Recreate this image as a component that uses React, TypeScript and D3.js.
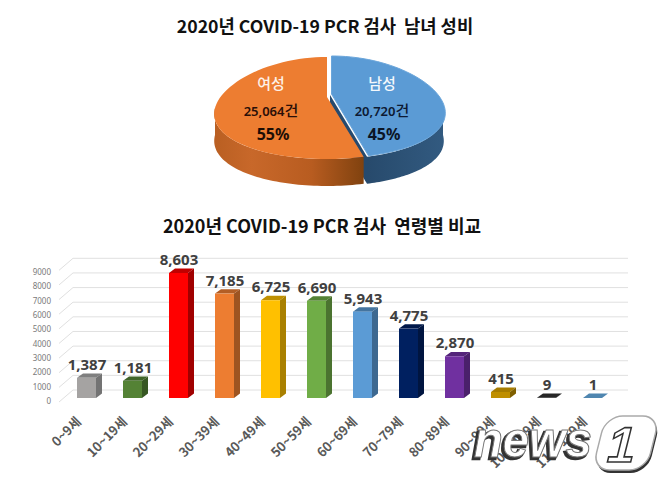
import * as d3 from 'd3';

const FONT = '"Noto Sans CJK KR", sans-serif';
const LATIN = '"Noto Sans", "Noto Sans CJK KR", sans-serif';

const genderNames = ['남성', '여성'];
const genderCounts = [20720, 25064];
const genderCountLabels = ['20,720', '25,064'];
const genderPercents = ['45%', '55%'];

const ages = ['0~9세', '10~19세', '20~29세', '30~39세', '40~49세', '50~59세', '60~69세', '70~79세', '80~89세', '90~99세', '100~109세', '110~119세'];
const ageCounts = [1387, 1181, 8603, 7185, 6725, 6690, 5943, 4775, 2870, 415, 9, 1];
const yTicks = [0, 1000, 2000, 3000, 4000, 5000, 6000, 7000, 8000, 9000];

const barFront = ['#a5a3a2', '#548235', '#ff0000', '#ed7d31', '#ffc000', '#70ad47', '#5b9bd5', '#002060', '#7030a0', '#bf8f00', '#262626', '#4f86b0'];
const barTop = ['#7f7f7f', '#3f6428', '#c00000', '#b35e25', '#c09000', '#548235', '#44749f', '#00184a', '#54247a', '#a67c00', '#262626', '#4f86b0'];
const barSide = ['#737373', '#375723', '#a00000', '#9e5421', '#a98000', '#4b7330', '#3d6890', '#001540', '#4a206b', '#7f5f00', '#262626', '#41719c'];

const depthX = 6;
const depthY = 4.4;

// bars use the front plane, grid sits on the back wall, tick labels have their own spacing
const x = d3.scaleBand<string>().domain(ages).range([63.5, 615.5]).paddingInner(0.587).paddingOuter(0.2935);
const y = d3.scaleLinear().domain([0, 9000]).range([398, 267.2]);
const yBack = d3.scaleLinear().domain([0, 9000]).range([390, 258.3]);
const yLabel = d3.scaleLinear().domain([0, 9000]).range([401, 272]);

const pieAngles = d3.pie<number>().sort(null)(genderCounts);
const pieCy = 108;
const pieRy = 51;
const pieDepth = 27;

function rim(a: number, cx: number, rx: number): [number, number] {
  const widen = 1 - 0.12 * Math.cos(a);
  return [cx + rx * Math.sin(a) * widen, pieCy - pieRy * Math.cos(a)];
}

function arcPoints(a0: number, a1: number, cx: number, rx: number): [number, number][] {
  const n = 60;
  return d3.range(n + 1).map(i => rim(a0 + ((a1 - a0) * i) / n, cx, rx));
}

const line = d3.line();

function topPath(a0: number, a1: number, cx: number, rx: number, apexY: number) {
  return line([[cx, apexY], ...arcPoints(a0, a1, cx, rx)]) + 'Z';
}

function sidePath(a0: number, a1: number, cx: number, rx: number) {
  const pts = arcPoints(a0, a1, cx, rx);
  const low = pts.map(([px, py]) => [px, py + pieDepth] as [number, number]).reverse();
  return line([...pts, ...low]) + 'Z';
}

function Pie() {
  const male = pieAngles[0];
  const female = pieAngles[1];
  const mEnd = rim(male.endAngle, 330, 113);
  const mApex: [number, number] = [330, 95];
  const fStart = female.startAngle;
  return (
    <g>
      <defs>
        <linearGradient id="orangeSide" x1="0" x2="1" y1="0" y2="0">
          <stop offset="0" stopColor="#b95f22" />
          <stop offset="0.25" stopColor="#c8682a" />
          <stop offset="0.65" stopColor="#b85c20" />
          <stop offset="1" stopColor="#80420f" />
        </linearGradient>
        <linearGradient id="blueSide" x1="0" x2="1" y1="0" y2="0">
          <stop offset="0" stopColor="#274a6c" />
          <stop offset="1" stopColor="#325a80" />
        </linearGradient>
      </defs>
      <path d={sidePath(Math.PI / 2, male.endAngle, 330, 113)} fill="url(#blueSide)" />
      <path
        d={line([mApex, mEnd, [mEnd[0], mEnd[1] + pieDepth], [mApex[0], mApex[1] + pieDepth]])! + 'Z'}
        fill="#264a6e"
      />
      <path d={topPath(male.startAngle, male.endAngle, 330, 113, 95)} fill="#5b9bd5" stroke="#6ba6db" strokeWidth={1} transform="translate(1.5,-1)" />
      <path d={sidePath(fStart, Math.PI * 1.5, 327, 112)} fill="url(#orangeSide)" />
      <path d={topPath(fStart, female.endAngle, 327, 112, 97)} fill="#ed7d31" />

      <g textAnchor="middle" fontFamily={FONT}>
        <text x={382} y={89} fontSize={15} fontWeight={500} fill="#f4f8fc">{genderNames[0]}</text>
        <text x={271} y={89} fontSize={15} fontWeight={500} fill="#fdf1e8">{genderNames[1]}</text>
        <text x={382} y={116} fontSize={13} fontWeight={500} fill="#0d1a33">
          <tspan fontFamily={LATIN} fontWeight={600}>{genderCountLabels[0]}</tspan>
          <tspan fontSize={15}>건</tspan>
        </text>
        <text x={271} y={116} fontSize={13} fontWeight={500} fill="#2a0f08">
          <tspan fontFamily={LATIN} fontWeight={600}>{genderCountLabels[1]}</tspan>
          <tspan fontSize={15}>건</tspan>
        </text>
        <text x={384} y={140} fontSize={16} fontWeight={700} fontFamily={LATIN} fill="#0b1526">{genderPercents[0]}</text>
        <text x={273} y={140} fontSize={16} fontWeight={700} fontFamily={LATIN} fill="#1c0d05">{genderPercents[1]}</text>
      </g>
    </g>
  );
}

function Bars() {
  const bw = x.bandwidth();
  return (
    <g>
      {ages.map((age, i) => {
        const left = x(age)!;
        const top = y(ageCounts[i]);
        const base = y(0);
        const right = left + bw;
        return (
          <g key={age}>
            <path
              d={line([[left, top], [left + depthX, top - depthY], [right + depthX, top - depthY], [right, top]])! + 'Z'}
              fill={barTop[i]}
            />
            <path
              d={line([[right, top], [right + depthX, top - depthY], [right + depthX, base - depthY], [right, base]])! + 'Z'}
              fill={barSide[i]}
            />
            <rect x={left} y={top} width={bw} height={base - top} fill={barFront[i]} />
            <text
              x={left + bw / 2 + 0.5}
              y={top - 8}
              textAnchor="middle"
              fontFamily={LATIN}
              fontWeight={700}
              fontSize={15}
              fill="#404040"
            >
              {d3.format(',')(ageCounts[i])}
            </text>
          </g>
        );
      })}
    </g>
  );
}

function Grid() {
  return (
    <g stroke="#e0e0e0" strokeWidth={1} fill="none">
      {yTicks.map(t => (
        <path key={t} d={line([[59, yBack(t) + 12], [73, yBack(t)], [628, yBack(t)]])!} />
      ))}
    </g>
  );
}

function Watermark() {
  const wm = {
    y: 457,
    fontFamily: '"Liberation Sans", sans-serif',
    fontWeight: 700,
    fontStyle: 'italic',
    fontSize: 50,
    textLength: 118,
    lengthAdjust: 'spacingAndGlyphs',
  } as const;
  return (
    <g>
      <text {...wm} x={472} dy={2} fill="#333" stroke="#333" strokeWidth={2.5}>news</text>
      <text {...wm} x={474} fill="#fff" stroke="#777" strokeWidth={1}>news</text>
      <g transform="translate(625,443) skewX(-14)">
        <rect x={-24} y={-24} width={54} height={54} rx={17} fill="#333" />
        <rect x={-26} y={-27} width={54} height={54} rx={17} fill="#fff" stroke="#aaa" strokeWidth={1.5} />
        <text x={-2} y={19} textAnchor="middle" fontFamily='"Liberation Sans", sans-serif' fontWeight={700} fontSize={50} fill="#fff" stroke="#333" strokeWidth={1.6}>
          1
        </text>
      </g>
    </g>
  );
}

export default function App() {
  return (
    <svg width={666} height={482} style={{ position: 'absolute', left: 0, top: 0, background: '#fff' }}>
      <text x={325} y={33} textAnchor="middle" fontFamily={FONT} fontWeight={700} fontSize={17.7} fill="#111" xmlSpace="preserve">
        2020년 COVID-19 PCR 검사  남녀 성비
      </text>
      <Pie />

      <text x={322} y={233} textAnchor="middle" fontFamily={FONT} fontWeight={700} fontSize={18} fill="#111" xmlSpace="preserve">
        2020년 COVID-19 PCR 검사  연령별 비교
      </text>
      <Grid />
      <g
        ref={el => {
          if (!el) return;
          const axis = d3.axisLeft(yLabel).tickValues(yTicks).tickSize(0).tickFormat(d3.format('d'));
          const sel = d3.select(el).attr('transform', 'translate(54,0)').call(axis);
          sel.select('.domain').remove();
          sel.selectAll('text').attr('fill', '#7a7a7a').attr('font-size', 8).attr('font-family', LATIN);
        }}
      />
      <Bars />
      {ages.map(age => (
        <text
          key={age}
          transform={`translate(${x(age)! + x.bandwidth() / 2 - 7},${420}) rotate(-45)`}
          textAnchor="end"
          dominantBaseline="middle"
          fontFamily={FONT}
          fontWeight={700}
          fontSize={13}
          fill="#595959"
        >
          {age}
        </text>
      ))}
      <Watermark />
    </svg>
  );
}
